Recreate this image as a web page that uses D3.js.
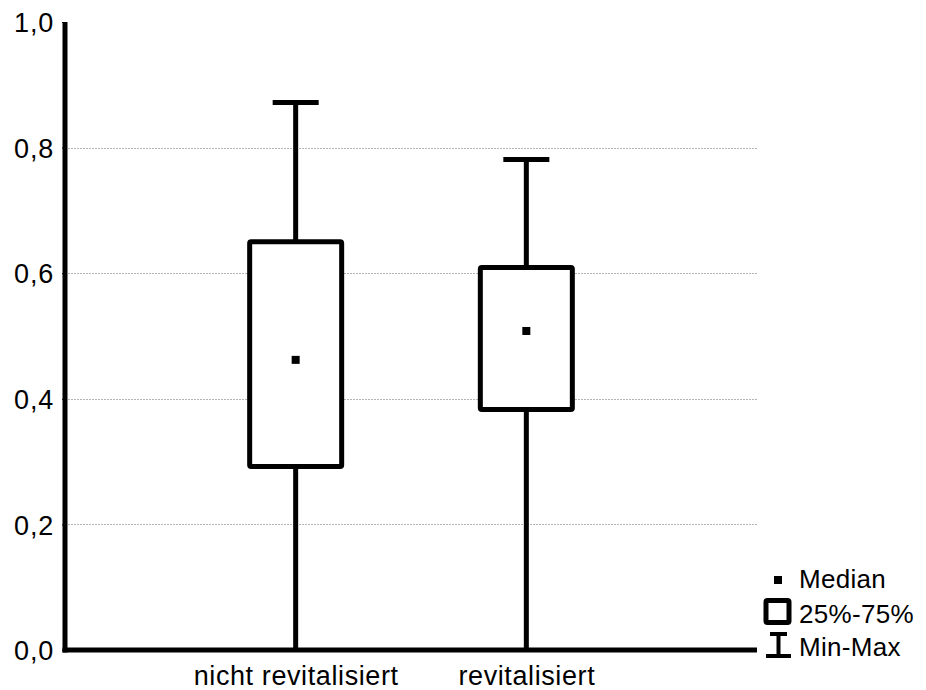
<!DOCTYPE html>
<html><head><meta charset="utf-8">
<script src="https://cdn.jsdelivr.net/npm/d3@7"></script>
<style>body{margin:0;background:#fff}svg{display:block}text{font-family:"Liberation Sans",Arial,sans-serif;fill:#000}</style>
</head><body>
<script>
const categories = ["nicht revitalisiert", "revitalisiert"];
const minVals = [0.0, 0.0];
const q1Vals = [0.292, 0.383];
const medianVals = [0.462, 0.508];
const q3Vals = [0.650, 0.609];
const maxVals = [0.872, 0.781];
const yTicks = [0, 0.2, 0.4, 0.6, 0.8, 1.0];
const gridTicks = [0.2, 0.4, 0.6, 0.8];
const legendLabels = ["Median", "25%-75%", "Min-Max"];

const W = 926, H = 690;
const svg = d3.select("body").append("svg").attr("width", W).attr("height", H);
const x0 = 65, x1 = 757, yTop = 22, yBot = 650;
const x = d3.scalePoint().domain(categories).range([x0, x1]).padding(1);
const y = d3.scaleLinear().domain([0, 1]).range([yBot, yTop]);
const fmt = d => d3.format(".1f")(d).replace(".", ",");

// grid
svg.append("g").selectAll("line").data(gridTicks).join("line")
  .attr("x1", x0).attr("x2", x1).attr("y1", d => Math.round(y(d)) + 0.5).attr("y2", d => Math.round(y(d)) + 0.5)
  .attr("stroke", "#b4b4b4").attr("stroke-width", 1).attr("stroke-dasharray", "2,1");

// y axis
const yAxis = d3.axisLeft(y).tickValues(yTicks).tickFormat(fmt).tickSize(3).tickPadding(8);
const gy = svg.append("g").attr("transform", `translate(${x0},0)`).call(yAxis);
gy.select(".domain").remove();
gy.selectAll("line").attr("stroke", "#000").attr("stroke-width", 1);
gy.selectAll("text").style("font-size", "27px").style("letter-spacing", "0.8px").attr("dy", "0.36em");
svg.append("line").attr("x1", x0).attr("x2", x0).attr("y1", yTop).attr("y2", yBot + 2.5)
  .attr("stroke", "#000").attr("stroke-width", 5);

// x axis
const xAxis = d3.axisBottom(x).tickSize(0).tickPadding(16);
const gx = svg.append("g").attr("transform", `translate(0,${yBot})`).call(xAxis);
gx.select(".domain").remove();
gx.selectAll("text").style("font-size", "27px").style("letter-spacing", "0.6px").attr("dy", "0.71em");
svg.append("line").attr("x1", x0 - 2.5).attr("x2", x1).attr("y1", yBot).attr("y2", yBot)
  .attr("stroke", "#000").attr("stroke-width", 5);

// boxes
const boxW = 92, capW = 46;
const g = svg.append("g").selectAll("g").data(categories).join("g");
g.append("line").attr("x1", (d) => x(d)).attr("x2", d => x(d))
  .attr("y1", (d, i) => y(maxVals[i])).attr("y2", (d, i) => y(minVals[i]))
  .attr("stroke", "#000").attr("stroke-width", 5);
g.append("line").attr("x1", d => x(d) - capW / 2).attr("x2", d => x(d) + capW / 2)
  .attr("y1", (d, i) => y(maxVals[i])).attr("y2", (d, i) => y(maxVals[i]))
  .attr("stroke", "#000").attr("stroke-width", 5);
g.append("rect").attr("x", d => x(d) - boxW / 2).attr("width", boxW)
  .attr("y", (d, i) => y(q3Vals[i])).attr("height", (d, i) => y(q1Vals[i]) - y(q3Vals[i]))
  .attr("fill", "#fff").attr("stroke", "#000").attr("stroke-width", 5).attr("rx", 1.5);
g.append("rect").attr("x", d => x(d) - 4).attr("width", 8)
  .attr("y", (d, i) => y(medianVals[i]) - 4).attr("height", 8).attr("fill", "#000");

// legend
const lg = svg.append("g");
lg.append("rect").attr("x", 774).attr("y", 576).attr("width", 8).attr("height", 8).attr("fill", "#000");
lg.append("rect").attr("x", 766).attr("y", 600.5).attr("width", 23).attr("height", 22).attr("rx", 1.5)
  .attr("fill", "#fff").attr("stroke", "#000").attr("stroke-width", 5);
lg.append("line").attr("x1", 770).attr("x2", 787).attr("y1", 634).attr("y2", 634).attr("stroke", "#000").attr("stroke-width", 4);
lg.append("line").attr("x1", 778.5).attr("x2", 778.5).attr("y1", 634).attr("y2", 656).attr("stroke", "#000").attr("stroke-width", 4);
lg.append("line").attr("x1", 766).attr("x2", 791).attr("y1", 656).attr("y2", 656).attr("stroke", "#000").attr("stroke-width", 4);
lg.selectAll("text").data(legendLabels).join("text")
  .attr("x", 799).attr("y", (d, i) => [588, 623, 656][i])
  .style("font-size", "26px").style("letter-spacing", "0.3px").text(d => d);
</script>
</body></html>
